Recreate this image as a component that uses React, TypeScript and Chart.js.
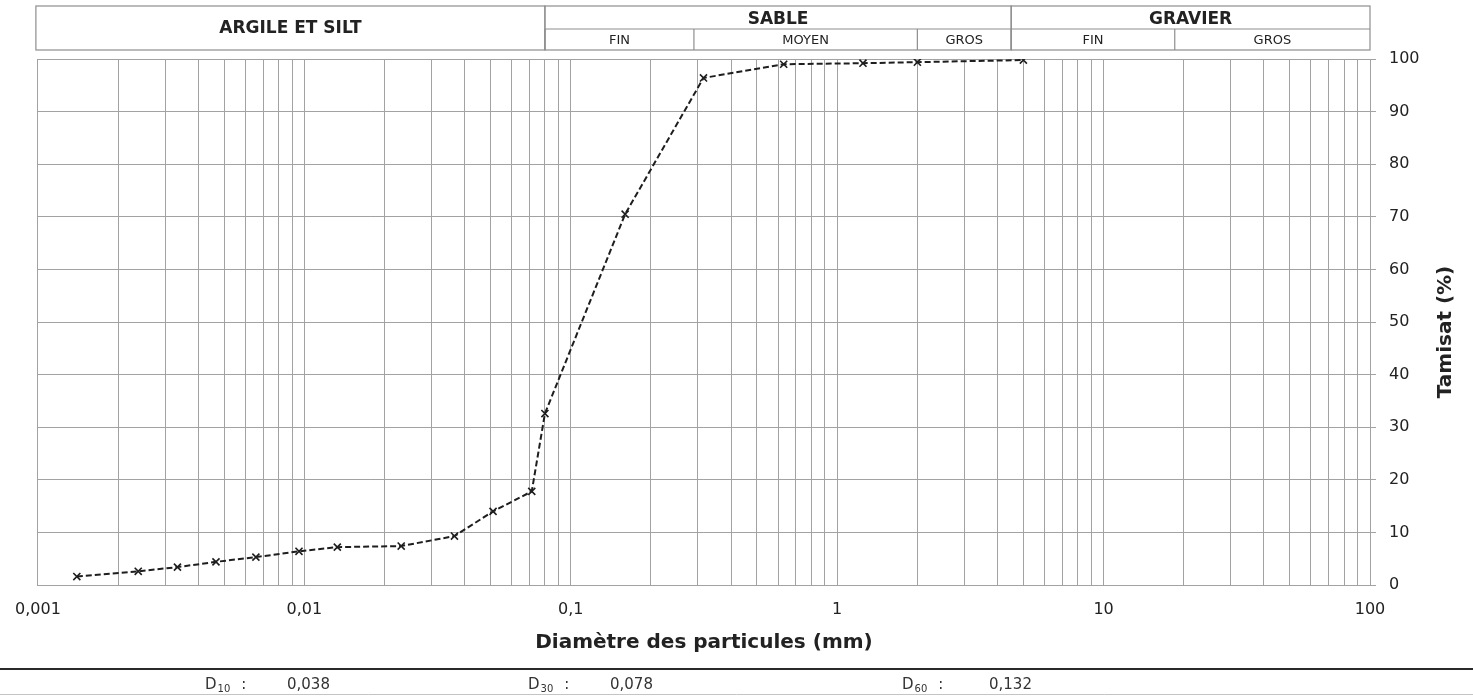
import { useEffect, useRef } from "react";
import { Chart, registerables } from "chart.js";

Chart.register(...registerables);

// ---- data ----
const diameters = [0.0014, 0.00238, 0.00334, 0.00466, 0.00658, 0.00955, 0.0133, 0.0231, 0.0366, 0.0511, 0.0714, 0.08, 0.16, 0.315, 0.63, 1.25, 2, 5];
const passing = [1.6, 2.6, 3.4, 4.4, 5.3, 6.4, 7.2, 7.4, 9.3, 14.0, 17.8, 32.6, 70.5, 96.4, 99.0, 99.2, 99.4, 99.8];

const decadeValues = [0.001, 0.01, 0.1, 1, 10, 100];
const decadeLabels = ["0,001", "0,01", "0,1", "1", "10", "100"];
const gridMantissas = [1, 2, 3, 4, 5, 6, 7, 8, 9];

const mainClasses = ["ARGILE ET SILT", "SABLE", "GRAVIER"];
const mainBounds = [0.001, 0.08, 4.5, 100];
const subClasses = ["FIN", "MOYEN", "GROS", "FIN", "GROS"];
const subBounds = [0.08, 0.29, 2, 4.5, 18.5, 100];

const dNames = ["10", "30", "60"];
const dValues = ["0,038", "0,078", "0,132"];

const FONT = "'DejaVu Sans', Verdana, sans-serif";

export default function App() {
  const ref = useRef<HTMLCanvasElement>(null);

  useEffect(() => {
    document.body.style.margin = "0";
    const canvas = ref.current;
    if (!canvas) return;

    const gridValues: number[] = [];
    decadeValues.slice(0, -1).forEach((d) => gridMantissas.forEach((m) => gridValues.push(m * d)));
    gridValues.push(decadeValues[decadeValues.length - 1]);

    const headerPlugin = {
      id: "decor",
      afterDraw(chart: any) {
        const ctx: CanvasRenderingContext2D = chart.ctx;
        const xs = chart.scales.x;
        const px = (v: number) => xs.getPixelForValue(v);
        const top = 6, mid = 29, bot = 50;
        ctx.save();
        ctx.strokeStyle = "#8e8e8e";
        ctx.lineWidth = 1.2;
        ctx.fillStyle = "#222";
        ctx.textAlign = "center";
        ctx.textBaseline = "middle";
        for (let i = 0; i < mainClasses.length; i++) {
          const x1 = px(mainBounds[i]) - (i === 0 ? 2 : 0);
          const x2 = px(mainBounds[i + 1]);
          ctx.strokeRect(x1, top, x2 - x1, bot - top);
          ctx.font = `bold 17px ${FONT}`;
          const cy = i === 0 ? (top + bot) / 2 + 1 : 20;
          ctx.fillText(mainClasses[i], (x1 + x2) / 2, cy);
        }
        ctx.beginPath();
        ctx.moveTo(px(mainBounds[1]), mid);
        ctx.lineTo(px(mainBounds[3]), mid);
        ctx.stroke();
        ctx.font = `13px ${FONT}`;
        for (let i = 0; i < subClasses.length; i++) {
          const x1 = px(subBounds[i]);
          const x2 = px(subBounds[i + 1]);
          ctx.beginPath();
          ctx.moveTo(x1, mid);
          ctx.lineTo(x1, bot);
          ctx.stroke();
          ctx.fillText(subClasses[i], (x1 + x2) / 2, 41);
        }
        const ya = chart.chartArea;
        ctx.save();
        ctx.translate(1446, (ya.top + ya.bottom) / 2 + 10);
        ctx.rotate(-Math.PI / 2);
        ctx.font = `bold 20px ${FONT}`;
        ctx.fillStyle = "#222";
        ctx.fillText("Tamisat (%)", 0, 0);
        ctx.restore();
        ctx.strokeStyle = "#2a2a2a";
        ctx.lineWidth = 2;
        ctx.beginPath();
        ctx.moveTo(0, 669);
        ctx.lineTo(1473, 669);
        ctx.stroke();
        ctx.strokeStyle = "#c4c4c4";
        ctx.lineWidth = 1;
        ctx.beginPath();
        ctx.moveTo(0, 694.5);
        ctx.lineTo(1473, 694.5);
        ctx.stroke();
        const dX = [205, 528, 902];
        const vX = [287, 610, 989];
        ctx.textAlign = "left";
        ctx.textBaseline = "alphabetic";
        ctx.fillStyle = "#333";
        for (let i = 0; i < dNames.length; i++) {
          ctx.font = `15px ${FONT}`;
          ctx.fillText("D", dX[i], 689);
          const w = ctx.measureText("D").width;
          ctx.font = `10px ${FONT}`;
          ctx.fillText(dNames[i], dX[i] + w + 1, 692);
          const w2 = ctx.measureText(dNames[i]).width;
          ctx.font = `15px ${FONT}`;
          ctx.fillText(":", dX[i] + w + w2 + 12, 689);
          ctx.fillText(dValues[i], vX[i], 689);
        }
        ctx.restore();
      },
    };

    const chart = new Chart(canvas, {
      type: "line",
      data: {
        datasets: [
          {
            data: diameters.map((d, i) => ({ x: d, y: passing[i] })),
            borderColor: "#1e1e1e",
            borderWidth: 2,
            borderDash: [6, 3],
            pointStyle: "crossRot",
            pointRadius: 5,
            pointBorderWidth: 1.6,
            pointBorderColor: "#1e1e1e",
            pointBackgroundColor: "#1e1e1e",
            fill: false,
            tension: 0,
          },
        ],
      },
      options: {
        responsive: false,
        animation: false,
        events: [],
        layout: { padding: { left: 34, top: 59, right: 0, bottom: 0 } },
        plugins: { legend: { display: false }, tooltip: { enabled: false } },
        scales: {
          x: {
            type: "logarithmic",
            min: 0.001,
            max: 100,
            afterBuildTicks: (s: any) => {
              s.ticks = gridValues.map((v) => ({ value: v }));
            },
            afterFit: (s: any) => {
              s.height = 111;
            },
            ticks: {
              autoSkip: false,
              maxRotation: 0,
              minRotation: 0,
              padding: 15,
              color: "#222",
              font: { family: FONT, size: 16 },
              callback: (v: any) => {
                const val = Number(v);
                const i = decadeValues.findIndex((d) => Math.abs(val - d) / d < 1e-6);
                return i >= 0 ? decadeLabels[i] : "";
              },
            },
            grid: { color: "#a2a2a2", lineWidth: 1, drawTicks: false },
            border: { color: "#a2a2a2" },
            title: {
              display: true,
              text: "Diamètre des particules (mm)",
              color: "#222",
              font: { family: FONT, size: 20, weight: "bold" },
              padding: { top: 0, bottom: 41 },
            },
          },
          y: {
            type: "linear",
            position: "right",
            min: 0,
            max: 100,
            afterFit: (s: any) => {
              s.width = 103;
            },
            ticks: {
              stepSize: 10,
              padding: 13,
              color: "#222",
              font: { family: FONT, size: 16 },
            },
            grid: { color: "#a2a2a2", lineWidth: 1, tickLength: 6 },
            border: { color: "#a2a2a2" },
          },
        },
      },
      plugins: [headerPlugin],
    } as any);

    return () => chart.destroy();
  }, []);

  return (
    <div style={{ width: 1473, height: 696, background: "#fff" }}>
      <canvas ref={ref} width={1473} height={696} style={{ display: "block" }} />
    </div>
  );
}
